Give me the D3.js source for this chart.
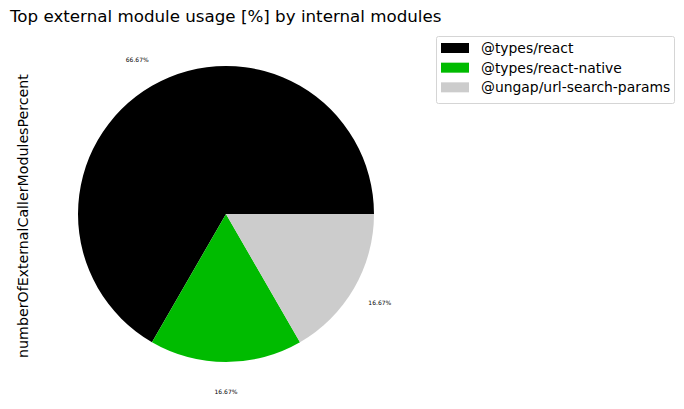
<!DOCTYPE html>
<html>
<head>
<meta charset="utf-8">
<script src="https://cdn.jsdelivr.net/npm/d3@7"></script>
<style>
  body { margin: 0; background: #fff; }
  text { font-family: "DejaVu Sans", sans-serif; }
</style>
</head>
<body>
<svg id="chart" width="684" height="409"></svg>
<script>
// data
const modules = ["@types/react", "@types/react-native", "@ungap/url-search-params"]
const percents = [66.67, 16.67, 16.67]
const colors = ["#000000", "#00bb00", "#cccccc"]

const svg = d3.select("#chart")
const cx = 226, cy = 214, radius = 148

// title
svg.append("text")
    .attr("x", 10)
    .attr("y", 22)
    .style("font-size", "16.7px")
    .attr("fill", "#000")
    .text("Top external module usage [%] by internal modules")

// y label
svg.append("text")
    .attr("transform", `translate(28, ${cy + 2}) rotate(-90)`)
    .attr("text-anchor", "middle")
    .style("font-size", "14.2px")
    .text("numberOfExternalCallerModulesPercent")

// pie: matplotlib style, start at east, counterclockwise
const pie = d3.pie().sort(null).value(d => d)
    .startAngle(Math.PI / 2).endAngle(Math.PI / 2 - 2 * Math.PI)
const arcs = pie(percents)
const arc = d3.arc().innerRadius(0).outerRadius(radius)

const g = svg.append("g").attr("transform", `translate(${cx},${cy})`)
g.selectAll("path").data(arcs).join("path")
    .attr("d", arc)
    .attr("fill", (d, i) => colors[i])

// percentage labels at 1.2 * radius
const labelArc = d3.arc().innerRadius(radius * 1.2).outerRadius(radius * 1.2)
g.selectAll(".pct").data(arcs).join("text")
    .attr("class", "pct")
    .attr("transform", d => `translate(${labelArc.centroid(d)})`)
    .attr("text-anchor", "middle")
    .attr("dy", "0.35em")
    .style("font-size", "6px")
    .text(d => d.data.toFixed(2) + "%")

// legend
const legend = svg.append("g").attr("class", "legend")
legend.append("rect")
    .attr("x", 436.5).attr("y", 36.5)
    .attr("width", 238).attr("height", 67)
    .attr("rx", 2)
    .attr("fill", "#fff")
    .attr("stroke", "#d5d5d5")

const rowY = d3.scaleBand().domain(modules).range([43, 102]).paddingInner(0)
legend.selectAll(".legrect").data(modules).join("rect")
    .attr("class", "legrect")
    .attr("x", 441)
    .attr("y", d => rowY(d))
    .attr("width", 28)
    .attr("height", 10)
    .attr("fill", (d, i) => colors[i])

legend.selectAll(".legtext").data(modules).join("text")
    .attr("class", "legtext")
    .attr("x", 481)
    .attr("y", d => rowY(d) + 5)
    .attr("dy", "0.35em")
    .style("font-size", "13.9px")
    .text(d => d)
</script>
</body>
</html>
